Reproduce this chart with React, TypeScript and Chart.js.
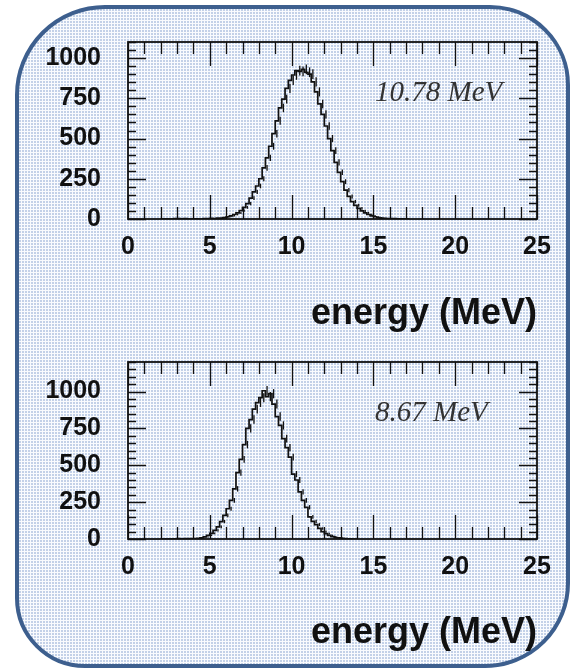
import React, { useEffect, useRef } from 'react';
import { Chart, registerables } from 'chart.js';

Chart.register(...registerables);

// ---- data ----
const BIN_WIDTH = 0.2; // MeV
const TOP_FIRST_BIN = 2.0;
const topCounts = [
  0, 0, 0, 0, 0,
  2, 3, 1, 2, 0,
  0, 1, 0, 0, 2,
  3, 4, 3, 5, 6,
  9, 14, 20, 28, 38,
  52, 72, 96, 130, 168,
  205, 250, 318, 380, 452,
  530, 610, 690, 745, 812,
  862, 895, 922, 918, 930,
  912, 900, 852, 790, 715,
  650, 578, 500, 425, 352,
  290, 232, 180, 140, 108,
  85, 66, 50, 38, 28,
  20, 14, 9, 6, 4,
  3, 2, 2, 1, 1,
  0,
];
const BOTTOM_FIRST_BIN = 2.0;
const bottomCounts = [
  0, 0, 0, 0, 0,
  1, 2, 1, 2, 2,
  3, 3, 5, 8, 14,
  25, 38, 58, 82, 118,
  160, 205, 262, 340, 450,
  540, 640, 750, 810, 880,
  925, 958, 1005, 965, 985,
  915, 830, 770, 680, 620,
  555, 440, 400, 320, 262,
  215, 150, 120, 98, 72,
  50, 36, 24, 16, 10,
  7, 4, 2, 1, 0,
];
const X_MIN = 0;
const X_MAX = 25;
const X_MINOR = 1;
const X_MAJOR = 5;
const xTickLabels = [0, 5, 10, 15, 20, 25];
const yTickLabels = [0, 250, 500, 750, 1000];
const Y_MINOR = 50;
const Y_MAJOR = 250;
const TOP_Y_MAX = 1100;
const BOTTOM_Y_MAX = 1200;
const X_TITLE = 'energy (MeV)';
const TOP_LABEL = '10.78 MeV';
const BOTTOM_LABEL = '8.67 MeV';

const SANS = '"Liberation Sans", Arial, Helvetica, sans-serif';
const SERIF = '"Liberation Serif", "Times New Roman", serif';

function histPoints(first: number, counts: number[]) {
  const pts = counts.map((c, i) => ({ x: +(first + i * BIN_WIDTH).toFixed(3), y: c }));
  pts.push({ x: +(first + counts.length * BIN_WIDTH).toFixed(3), y: counts[counts.length - 1] });
  return pts;
}

const CANVAS_W = 572;
const CANVAS_H = 335;

const framePlugin = {
  id: 'rootFrame',
  afterDatasetsDraw(chart: any) {
    const { ctx, chartArea, scales } = chart;
    const { left, right, top, bottom } = chartArea;
    const xs = scales.x;
    const ys = scales.y;
    ctx.save();
    // error bars
    const ds = chart.data.datasets[0].data as { x: number; y: number }[];
    ctx.strokeStyle = '#111';
    ctx.lineWidth = 1.3;
    for (let i = 0; i < ds.length - 1; i++) {
      const v = ds[i].y;
      if (v <= 0) continue;
      const e = Math.sqrt(v);
      const px = xs.getPixelForValue(ds[i].x + BIN_WIDTH / 2);
      ctx.beginPath();
      ctx.moveTo(px, ys.getPixelForValue(v - e));
      ctx.lineTo(px, ys.getPixelForValue(v + e));
      ctx.stroke();
    }
    // ticks inside the frame
    ctx.lineWidth = 1.3;
    for (let e = X_MIN; e <= X_MAX; e += X_MINOR) {
      const px = Math.round(xs.getPixelForValue(e)) + 0.5;
      const len = e % X_MAJOR === 0 ? 24 : 12;
      ctx.beginPath();
      ctx.moveTo(px, bottom);
      ctx.lineTo(px, bottom - len);
      ctx.moveTo(px, top);
      ctx.lineTo(px, top + len);
      ctx.stroke();
    }
    const yMax = ys.max;
    for (let v = 0; v <= yMax; v += Y_MINOR) {
      const py = Math.round(ys.getPixelForValue(v)) + 0.5;
      const len = v % Y_MAJOR === 0 ? 18 : 8;
      ctx.beginPath();
      ctx.moveTo(left, py);
      ctx.lineTo(left + len, py);
      ctx.moveTo(right, py);
      ctx.lineTo(right - len, py);
      ctx.stroke();
    }
    ctx.lineWidth = 1.8;
    ctx.strokeRect(left, top, right - left, bottom - top);
    // annotation
    const label = chart.options.plugins.rootFrame.label;
    ctx.font = `italic 29px ${SERIF}`;
    ctx.fillStyle = '#333';
    ctx.textAlign = 'left';
    ctx.textBaseline = 'alphabetic';
    ctx.fillText(label, left + 247, top + 59);
    ctx.restore();
  },
};

function Panel({ counts, first, yMax, label, top, titlePad }: any) {
  const ref = useRef<HTMLCanvasElement>(null);
  useEffect(() => {
    if (!ref.current) return;
    const chart = new Chart(ref.current, {
      type: 'line',
      data: {
        datasets: [
          {
            data: histPoints(first, counts),
            stepped: 'after',
            borderColor: '#111',
            borderWidth: 1.7,
            pointRadius: 0,
            fill: false,
          },
        ],
      },
      options: {
        animation: false,
        responsive: false,
        maintainAspectRatio: false,
        layout: { padding: { left: 0, right: 35, top: 39, bottom: 0 } },
        plugins: {
          legend: { display: false },
          tooltip: { enabled: false },
          rootFrame: { label },
        } as any,
        scales: {
          x: {
            type: 'linear',
            min: X_MIN,
            max: X_MAX,
            grid: { display: false, drawTicks: false },
            border: { display: false },
            afterBuildTicks: (s: any) => {
              s.ticks = xTickLabels.map((v) => ({ value: v }));
            },
            ticks: {
              padding: 13,
              autoSkip: false,
              maxRotation: 0,
              color: '#111',
              font: { family: SANS, size: 25, weight: 'bold' },
              callback: (v: any) => String(v),
            },
            title: {
              display: true,
              text: X_TITLE,
              align: 'end',
              color: '#111',
              font: { family: SANS, size: 36, weight: 'bold', lineHeight: 1 },
              padding: { top: 0, bottom: titlePad },
            },
            afterFit: (s: any) => {
              s.height = CANVAS_H - 219;
            },
          },
          y: {
            type: 'linear',
            min: 0,
            max: yMax,
            grid: { display: false, drawTicks: false },
            border: { display: false },
            afterBuildTicks: (s: any) => {
              s.ticks = yTickLabels.map((v) => ({ value: v }));
            },
            ticks: {
              padding: 27,
              autoSkip: false,
              color: '#111',
              font: { family: SANS, size: 25, weight: 'bold' },
              callback: (v: any) => String(v),
            },
            afterFit: (s: any) => {
              s.width = 128;
            },
          },
        },
      } as any,
      plugins: [framePlugin],
    });
    return () => chart.destroy();
  }, []);
  return (
    <canvas
      ref={ref}
      width={CANVAS_W}
      height={CANVAS_H}
      style={{ position: 'absolute', left: 0, top, width: CANVAS_W, height: CANVAS_H }}
    />
  );
}

export default function App() {
  return (
    <div style={{ position: 'absolute', left: 0, top: 0, width: 572, height: 670, background: '#fff', overflow: 'hidden' }}>
      <div
        style={{
          position: 'absolute',
          left: 15,
          top: 5,
          width: 555,
          height: 663,
          boxSizing: 'border-box',
          border: '4.5px solid #3d5f8e',
          borderRadius: '90px 80px 85px 70px',
          backgroundColor: '#f9fbfe',
          backgroundImage: 'radial-gradient(circle at 1px 1px, #c3d1e8 0.8px, transparent 1.0px)',
          backgroundSize: '3px 3px',
        }}
      />
      <Panel counts={topCounts} first={TOP_FIRST_BIN} yMax={TOP_Y_MAX} label={TOP_LABEL} top={0} titlePad={2.5} />
      <Panel counts={bottomCounts} first={BOTTOM_FIRST_BIN} yMax={BOTTOM_Y_MAX} label={BOTTOM_LABEL} top={320} titlePad={4} />
    </div>
  );
}
